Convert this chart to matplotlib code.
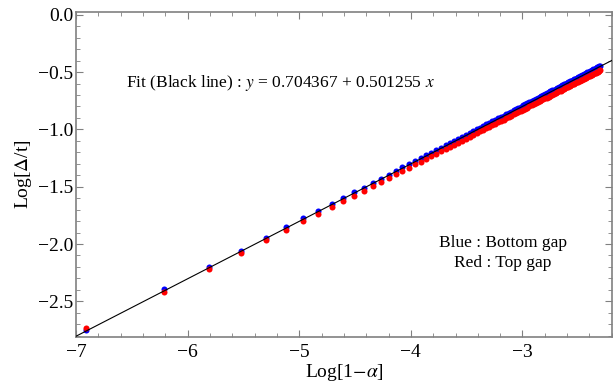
import matplotlib
matplotlib.use("Agg")
import matplotlib.pyplot as plt
from matplotlib.ticker import MultipleLocator

plt.rcParams['font.family'] = ['Liberation Serif', 'DejaVu Serif']
plt.rcParams['mathtext.fontset'] = 'stix'

# x = Log[1-alpha], alpha = 0.999 ... 0.900
log_one_minus_alpha = [
    -6.908, -6.215, -5.809, -5.521, -5.298, -5.116, -4.962, -4.828, -4.711, -4.605,
    -4.510, -4.423, -4.343, -4.269, -4.200, -4.135, -4.075, -4.017, -3.963, -3.912,
    -3.863, -3.817, -3.772, -3.730, -3.689, -3.650, -3.612, -3.576, -3.540, -3.507,
    -3.474, -3.442, -3.411, -3.381, -3.352, -3.324, -3.297, -3.270, -3.244, -3.219,
    -3.194, -3.170, -3.147, -3.124, -3.101, -3.079, -3.058, -3.037, -3.016, -2.996,
    -2.976, -2.957, -2.938, -2.919, -2.900, -2.882, -2.865, -2.847, -2.830, -2.813,
    -2.797, -2.781, -2.765, -2.749, -2.733, -2.718, -2.703, -2.688, -2.674, -2.659,
    -2.645, -2.631, -2.617, -2.604, -2.590, -2.577, -2.564, -2.551, -2.538, -2.526,
    -2.513, -2.501, -2.489, -2.477, -2.465, -2.453, -2.442, -2.430, -2.419, -2.408,
    -2.397, -2.386, -2.375, -2.365, -2.354, -2.343, -2.333, -2.323, -2.313, -2.303,
]

# Log[Delta/t], bottom gap (blue)
log_gap_bottom = [
    -2.754, -2.388, -2.201, -2.060, -1.945, -1.854, -1.777, -1.710, -1.651, -1.598,
    -1.550, -1.507, -1.467, -1.430, -1.395, -1.362, -1.332, -1.303, -1.276, -1.251,
    -1.226, -1.203, -1.180, -1.159, -1.139, -1.119, -1.100, -1.082, -1.064, -1.048,
    -1.031, -1.015, -0.999, -0.984, -0.970, -0.956, -0.942, -0.929, -0.916, -0.903,
    -0.891, -0.879, -0.867, -0.856, -0.844, -0.833, -0.822, -0.812, -0.801, -0.791,
    -0.781, -0.772, -0.762, -0.753, -0.743, -0.734, -0.726, -0.717, -0.708, -0.700,
    -0.692, -0.684, -0.676, -0.668, -0.660, -0.652, -0.645, -0.637, -0.630, -0.622,
    -0.615, -0.608, -0.601, -0.595, -0.588, -0.581, -0.575, -0.568, -0.562, -0.556,
    -0.549, -0.543, -0.537, -0.531, -0.525, -0.519, -0.514, -0.508, -0.502, -0.497,
    -0.491, -0.486, -0.480, -0.475, -0.470, -0.464, -0.459, -0.454, -0.449, -0.444,
]

# Log[Delta/t], top gap (red)
log_gap_top = [
    -2.733, -2.415, -2.219, -2.080, -1.966, -1.877, -1.801, -1.734, -1.676, -1.624,
    -1.577, -1.534, -1.495, -1.458, -1.424, -1.391, -1.361, -1.333, -1.306, -1.282,
    -1.257, -1.234, -1.211, -1.191, -1.171, -1.151, -1.132, -1.115, -1.097, -1.081,
    -1.064, -1.049, -1.033, -1.018, -1.004, -0.990, -0.977, -0.964, -0.951, -0.938,
    -0.926, -0.914, -0.903, -0.892, -0.880, -0.869, -0.858, -0.848, -0.837, -0.828,
    -0.818, -0.809, -0.799, -0.790, -0.780, -0.771, -0.763, -0.755, -0.746, -0.738,
    -0.730, -0.722, -0.714, -0.706, -0.698, -0.690, -0.683, -0.676, -0.669, -0.661,
    -0.654, -0.647, -0.640, -0.634, -0.627, -0.620, -0.614, -0.607, -0.602, -0.596,
    -0.589, -0.583, -0.577, -0.571, -0.565, -0.559, -0.554, -0.548, -0.542, -0.537,
    -0.532, -0.527, -0.521, -0.516, -0.511, -0.505, -0.500, -0.495, -0.490, -0.485,
]

fit_intercept = 0.704367
fit_slope = 0.501255
x_range = [-7.0, -2.2]
y_range = [-2.81, 0.025]

fig = plt.figure(figsize=(6.13, 3.85), dpi=100)
ax = fig.add_axes([0.124, 0.125, 0.874, 0.844])

ax.scatter(log_one_minus_alpha, log_gap_bottom, s=19, color='#0000ff', linewidths=0, zorder=2)
ax.scatter(log_one_minus_alpha, log_gap_top, s=19, color='#ff0000', linewidths=0, zorder=3)
ax.plot(x_range, [fit_intercept + fit_slope * v for v in x_range], color='black', lw=0.8, zorder=4)

ax.set_xlim(x_range)
ax.set_ylim(y_range)
ax.xaxis.set_major_locator(MultipleLocator(1))
ax.xaxis.set_minor_locator(MultipleLocator(0.2))
ax.yaxis.set_major_locator(MultipleLocator(0.5))
ax.yaxis.set_minor_locator(MultipleLocator(0.1))
ax.xaxis.set_major_formatter(plt.FuncFormatter(lambda v, p: '%d' % round(v) if v >= 0 else '\u2212%d' % round(-v)))
ax.yaxis.set_major_formatter(plt.FuncFormatter(lambda v, p: '%.1f' % v if v >= 0 else '\u2212%.1f' % -v))

gray = '#808080'
for sp in ax.spines.values():
    sp.set_color(gray)
    sp.set_linewidth(1.2)
ax.tick_params(which='both', direction='in', top=True, right=True, color=gray, labelsize=14)
ax.tick_params(which='major', length=5, width=0.8)
ax.tick_params(which='minor', length=3, width=0.6)
ax.tick_params(axis='x', pad=5)
ax.tick_params(axis='y', pad=2)

ax.set_xlabel(r'Log[1$-\alpha$]', fontsize=14, labelpad=1)
ax.set_ylabel(r'Log[$\Delta$/t]', fontsize=14, labelpad=3)

ax.text(0.381, 0.782, r'Fit (Black line) : $y$ = 0.704367 + 0.501255 $x$',
        transform=ax.transAxes, ha='center', va='center', fontsize=12.5)
ax.text(0.797, 0.289, 'Blue : Bottom gap', transform=ax.transAxes,
        ha='center', va='center', fontsize=12.5)
ax.text(0.797, 0.228, 'Red : Top gap', transform=ax.transAxes,
        ha='center', va='center', fontsize=12.5)

fig.savefig('out.png', dpi=100)
